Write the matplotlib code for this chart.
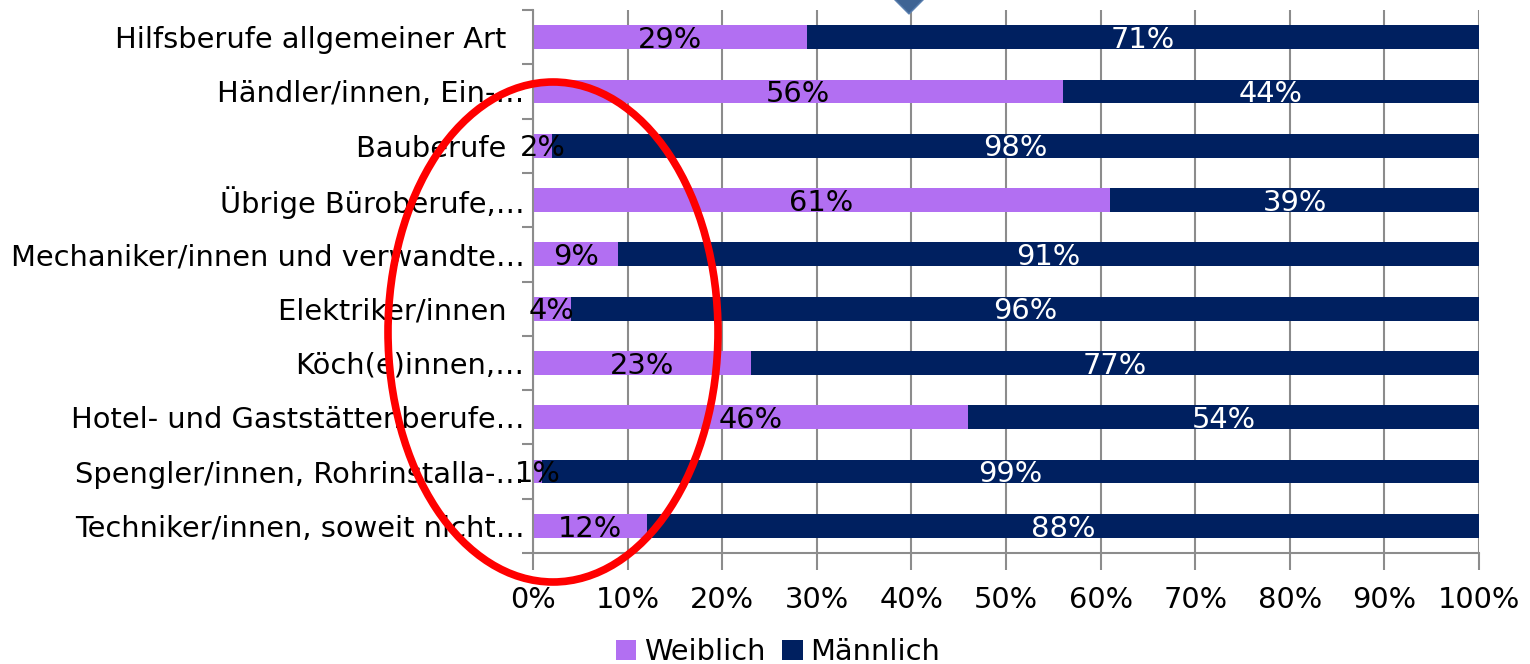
"""Weiblich/Männlich share per Berufsgruppe — 100% stacked horizontal bars."""
import matplotlib
matplotlib.use("Agg")
import matplotlib.pyplot as plt
from matplotlib.patches import Ellipse, Polygon
from matplotlib.ticker import PercentFormatter

# --- data (top to bottom as shown) ---
categories = [
    "Hilfsberufe allgemeiner Art  ",
    "Händler/innen, Ein-…",
    "Bauberufe  ",
    "Übrige Büroberufe,…",
    "Mechaniker/innen und verwandte…",
    "Elektriker/innen  ",
    "Köch(e)innen,…",
    "Hotel- und Gaststättenberufe…",
    "Spengler/innen, Rohrinstalla-…",
    "Techniker/innen, soweit nicht…",
]
weiblich = [29, 56, 2, 61, 9, 4, 23, 46, 1, 12]
maennlich = [71, 44, 98, 39, 91, 96, 77, 54, 99, 88]
xticks = [0, 10, 20, 30, 40, 50, 60, 70, 80, 90, 100]

PINK = "#b26ff2"
NAVY = "#002060"
GRID = "#8c8c8c"
FS = 20.8

plt.rcParams["font.family"] = ["DejaVu Sans"]
fig = plt.figure(figsize=(15.3, 6.64), dpi=100)
ax = fig.add_axes([533 / 1530, 1 - 553 / 664, (1479 - 533) / 1530, (553 - 10) / 664])

y = list(range(len(categories)))
h = 0.44
ax.barh(y, weiblich, height=h, color=PINK, label="Weiblich", zorder=2)
ax.barh(y, maennlich, left=weiblich, height=h, color=NAVY, label="Männlich", zorder=2)

for i, (w, m) in enumerate(zip(weiblich, maennlich)):
    ax.text(w / 2, i + 0.05, f"{w}%", ha="center", va="center", fontsize=FS, color="black", zorder=3)
    ax.text(w + m / 2, i + 0.05, f"{m}%", ha="center", va="center", fontsize=FS, color="white", zorder=3)

ax.set_xlim(0, 100)
ax.set_ylim(len(categories) - 0.5, -0.5)
ax.set_xticks(xticks)
ax.xaxis.set_major_formatter(PercentFormatter(decimals=0))
ax.set_yticks(y)
ax.set_yticklabels(categories, fontsize=FS)
ax.set_yticks([i - 0.5 for i in range(len(categories) + 1)], minor=True)
ax.tick_params(axis="y", which="major", length=0, pad=6)
ax.tick_params(axis="y", which="minor", length=8, color=GRID, width=1.5)
ax.tick_params(axis="x", length=12, color=GRID, width=1.5, labelsize=FS, pad=12)
ax.grid(axis="x", color=GRID, lw=1.5, zorder=0)
ax.set_axisbelow(True)
for s in ("top", "right"):
    ax.spines[s].set_visible(False)
for s in ("left", "bottom"):
    ax.spines[s].set_color(GRID)
    ax.spines[s].set_linewidth(1.5)

fig.legend(loc="center", bbox_to_anchor=(778 / 1530, 1 - 652 / 664), ncol=2, frameon=False,
           fontsize=FS, handlelength=0.7, handleheight=0.7, handletextpad=0.25, columnspacing=0.6)

# red ellipse annotation on top
ell = Ellipse((553 / 1530, 1 - 332 / 664), 330 / 1530, 500 / 664, transform=fig.transFigure,
              fill=False, edgecolor="#ff0000", lw=5.5, zorder=10)
fig.add_artist(ell)

# cut-off diamond marker at top
dx, dy = 1 / 1530, 1 / 664
dia = Polygon([(909 * dx, 1 - 14 * dy), (893 * dx, 1 + 2 * dy), (909 * dx, 1 + 18 * dy), (925 * dx, 1 + 2 * dy)],
              closed=True, transform=fig.transFigure, facecolor="#3f6494", edgecolor="#5a80b0", lw=1, zorder=10)
fig.add_artist(dia)

fig.savefig("out.png", dpi=100)
